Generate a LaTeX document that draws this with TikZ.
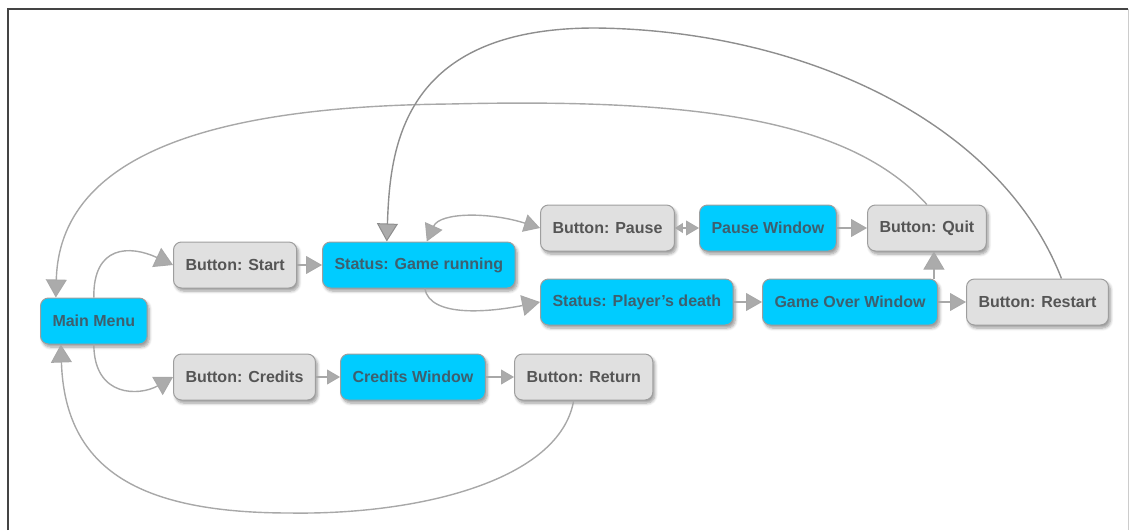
\documentclass[tikz,border=0pt]{standalone}
\usepackage{fontspec}
\setmainfont{Liberation Sans}
\usetikzlibrary{arrows.meta,shadows.blur,calc}
\definecolor{bluefill}{HTML}{00CCFF}
\definecolor{greyfill}{HTML}{E0E0E0}
\definecolor{nodeborder}{HTML}{9E9E9E}
\definecolor{textcol}{HTML}{555555}
\definecolor{bluetext}{HTML}{3E5F6E}
\definecolor{linecol}{HTML}{A8A8A8}
\definecolor{darkline}{HTML}{8E8E8E}
\definecolor{arrowfill}{HTML}{ABABAB}
\definecolor{framecol}{HTML}{444444}
\definecolor{framelight}{HTML}{CCCCCC}
\begin{document}
\begin{tikzpicture}[x=1pt,y=-1pt,
  box/.style={draw=nodeborder, line width=1pt, rounded corners=8pt,
    minimum height=46pt, inner xsep=12pt, anchor=west,
    font=\bfseries\fontsize{16}{18}\selectfont,
    blur shadow={shadow xshift=2pt, shadow yshift=-3pt, shadow opacity=40, shadow blur steps=6, shadow blur radius=3pt}},
  bluebox/.style={box, fill=bluefill, text=bluetext},
  greybox/.style={box, fill=greyfill, text=textcol},
  conn/.style={draw=linecol, line width=1.4pt},
  bigtip/.style={-{Triangle[length=18pt,width=21pt,fill=arrowfill,line width=1pt]}},
  midtip/.style={-{Triangle[length=16pt,width=18pt,fill=arrowfill,line width=1pt]}},
  smalltip/.style={-{Triangle[length=13pt,width=15pt,fill=arrowfill,line width=1pt]}},
]
\useasboundingbox (0,0) rectangle (1131,530);
% frame
\draw[framelight, line width=1pt] (1128,9) -- (1128,530);
\draw[framecol, line width=1.5pt] (8,530) -- (8,9) -- (1128,9);

% nodes
\node[bluebox] (menu) at (40,321) {Main Menu};
\node[greybox] (start) at (173,265) {Button: Start};
\node[bluebox] (run) at (322,265) {Status: Game running};
\node[greybox] (pause) at (540,228) {Button: Pause};
\node[bluebox] (pwin) at (699,228) {Pause Window};
\node[greybox] (quit) at (867,228) {Button: Quit};
\node[bluebox] (death) at (540,302) {Status: Player's death};
\node[bluebox] (gover) at (762,302) {Game Over Window};
\node[greybox] (restart) at (966,302) {Button: Restart};
\node[greybox] (credits) at (173,377) {Button: Credits};
\node[bluebox] (cwin) at (340,377) {Credits Window};
\node[greybox] (ret) at (514,377) {Button: Return};

% helper coordinates
\coordinate (qb) at ([xshift=7pt]quit.south);
\coordinate (menuTop) at ([xshift=-38pt]menu.north);
\coordinate (menuBot) at ([xshift=-33pt]menu.south);
\coordinate (runTopL) at ([xshift=-32pt]run.north);
\coordinate (runTopR) at ([xshift=8pt]run.north);
\coordinate (runBot) at ([xshift=6pt]run.south);
\coordinate (retBot) at ([xshift=-10pt]ret.south);
\coordinate (restTop) at ([xshift=24pt]restart.north);

% connectors
\draw[conn, bigtip] (menu.north) .. controls (93,245) and (130,245) .. (start.west);
\draw[conn, bigtip] (menu.south) .. controls (94,398) and (140,396) .. (credits.west);
\draw[conn, midtip] (start.east) -- (run.west);
\draw[conn, {Triangle[length=17pt,width=19pt,fill=arrowfill,line width=1pt]}-{Triangle[length=16pt,width=18pt,fill=arrowfill,line width=1pt]}]
  (runTopR) .. controls (440,212) and (490,212) .. (pause.west);
\draw[conn, {Triangle[length=8pt,width=10pt,fill=arrowfill,line width=1pt]}-{Triangle[length=13pt,width=15pt,fill=arrowfill,line width=1pt]}]
  (pause.east) -- (pwin.west);
\draw[conn, midtip] (pwin.east) -- (quit.west);
\draw[conn, bigtip] (runBot) .. controls (430,318) and (490,312) .. (death.west);
\draw[conn, midtip] (death.east) -- (gover.west);
\draw[conn, midtip] (gover.east) -- (restart.west);
\draw[conn, bigtip] (qb |- gover.north) -- (qb);
\draw[conn, smalltip] (cwin.west -| credits.east) -- (cwin.west);
\draw[conn, smalltip] (cwin.east) -- (ret.west);
\draw[conn, bigtip] (quit.north) .. controls (850,120) and (700,98) .. (450,104)
  .. controls (250,106) and (60,140) .. (menuTop);
\draw[conn, draw=darkline, bigtip] (restTop) .. controls (1000,120) and (800,30) .. (595,28)
  .. controls (400,28) and (390,150) .. (runTopL);
\draw[conn, bigtip] (retBot) .. controls (560,480) and (420,515) .. (290,513)
  .. controls (140,513) and (65,470) .. (menuBot);
\end{tikzpicture}
\end{document}
